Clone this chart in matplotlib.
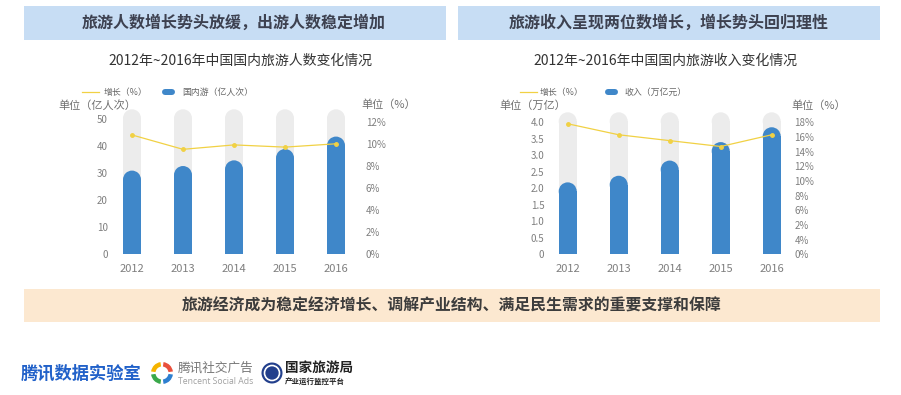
import numpy as np
import matplotlib
matplotlib.use("Agg")
import matplotlib.pyplot as plt
from matplotlib.patches import Rectangle, Circle, Wedge, Ellipse
from matplotlib.lines import Line2D

plt.rcParams["font.family"] = ["Noto Sans CJK SC", "DejaVu Sans"]

W, H = 901, 395

########################################################################################
# Données

annees = ["2012", "2013", "2014", "2015", "2016"]

# Graphique de gauche : nombre de touristes (亿人次) et croissance (%)
touristes = [31.0, 32.7, 34.8, 39.0, 43.6]
croissance_touristes = [10.8, 9.5, 9.9, 9.7, 10.0]
ticks_touristes = [0, 10, 20, 30, 40, 50]
ticks_pct_touristes = [0, 2, 4, 6, 8, 10, 12]
labels_pct_touristes = ["0%", "2%", "4%", "6%", "8%", "10%", "12%"]

# Graphique de droite : recettes (万亿元) et croissance (%)
recettes = [2.18, 2.38, 2.84, 3.40, 3.85]
croissance_recettes = [17.8, 16.3, 15.5, 14.7, 16.3]
ticks_recettes = [0, 0.5, 1.0, 1.5, 2.0, 2.5, 3.0, 3.5, 4.0]
labels_recettes = ["0", "0.5", "1.0", "1.5", "2.0", "2.5", "3.0", "3.5", "4.0"]
ticks_pct_recettes = [0, 2, 4, 6, 8, 10, 12, 14, 16, 18]
# l'original a bien 2% et 4% inversés
labels_pct_recettes = ["0%", "4%", "2%", "6%", "8%", "10%", "12%", "14%", "16%", "18%"]

BLEU = "#3f87c9"
GRIS_FOND = "#ececec"
JAUNE = "#f1d144"
GRIS_TXT = "#7f7f7f"

fig = plt.figure(figsize=(W / 100, H / 100), dpi=100)

# Axe de fond en pixels (origine en haut à gauche)
fond = fig.add_axes([0, 0, 1, 1], zorder=-1)
fond.set_xlim(0, W)
fond.set_ylim(H, 0)
fond.axis("off")


def px(v):
    return v * 0.72


def trace_graphique(x0, x1, y_haut, y_bas, valeurs, croissance, yticks, ylabels,
                    ylim_g, ylim_d, ticks_d, labels_d, pad_g, pad_d):
    ax = fig.add_axes([x0 / W, 1 - y_bas / H, (x1 - x0) / W, (y_bas - y_haut) / H])
    x = np.arange(len(annees))
    larg_px = 18
    pas_px = (x1 - x0) / (len(annees) - 1 + 40 / 51)
    marge = (x1 - x0) / pas_px - (len(annees) - 1)
    ax.set_xlim(-marge / 2, len(annees) - 1 + marge / 2)
    ax.set_ylim(*ylim_g)

    par_px = (ylim_g[1] - ylim_g[0]) / (y_bas - y_haut)
    r = larg_px / 2 * par_px
    largeur = larg_px / pas_px
    haut_fond = ylim_g[1] + 10 * par_px

    v = np.array(valeurs)
    for xi, vi in zip(x, v):
        # barre grise de fond avec bout arrondi
        ax.add_patch(Rectangle((xi - largeur / 2, 0), largeur, haut_fond - r,
                               color=GRIS_FOND, lw=0, clip_on=False, zorder=1))
        ax.add_patch(Ellipse((xi, haut_fond - r), largeur, 2 * r,
                             color=GRIS_FOND, lw=0, clip_on=False, zorder=1))
        # barre bleue
        ax.add_patch(Rectangle((xi - largeur / 2, 0), largeur, vi - r,
                               color=BLEU, lw=0, zorder=2))
        ax.add_patch(Ellipse((xi, vi - r), largeur, 2 * r,
                             color=BLEU, lw=0, clip_on=False, zorder=2))

    ax.set_xticks(x, annees)
    ax.set_yticks(yticks, ylabels)
    ax.tick_params(axis="x", length=0, pad=7, labelsize=8, labelcolor=GRIS_TXT)
    ax.tick_params(axis="y", length=0, pad=pad_g, labelsize=7, labelcolor=GRIS_TXT)
    for s in ax.spines.values():
        s.set_visible(False)
    ax.patch.set_visible(False)

    ax2 = ax.twinx()
    ax2.plot(x, croissance, color=JAUNE, lw=0.9, marker="o", ms=2.5, zorder=3)
    ax2.set_ylim(*ylim_d)
    ax2.set_yticks(ticks_d, labels_d)
    ax2.tick_params(axis="y", length=0, pad=pad_d, labelsize=7, labelcolor=GRIS_TXT)
    for s in ax2.spines.values():
        s.set_visible(False)
    return ax, ax2


trace_graphique(112, 356, 119.3, 254.3, touristes, croissance_touristes,
                ticks_touristes, [str(t) for t in ticks_touristes],
                (0, 50), (0, 12 * 135 / 132.6), ticks_pct_touristes, labels_pct_touristes,
                3, 7)
trace_graphique(547.7, 791.7, 122.3, 254.3, recettes, croissance_recettes,
                ticks_recettes, labels_recettes,
                (0, 4.0), (0, 18 * 132 / 132.6), ticks_pct_recettes, labels_pct_recettes,
                2.5, 2)

########################################################################################
# En-têtes

for (bx0, bx1, cx, titre, sous_titre, sx) in [
    (24, 446, 234, "旅游人数增长势头放缓，出游人数稳定增加", "2012年~2016年中国国内旅游人数变化情况", 240),
    (458, 880, 669, "旅游收入呈现两位数增长，增长势头回归理性", "2012年~2016年中国国内旅游收入变化情况", 665),
]:
    fond.add_patch(Rectangle((bx0, 6), bx1 - bx0, 33.5, color="#c7ddf4", lw=0))
    fond.text(cx, 22.7, titre, ha="center", va="center", fontsize=11.5,
              fontweight="bold", color="#3d4150")
    fond.text(sx, 60.7, sous_titre, ha="center", va="center", fontsize=10, color="#333333")

# Légendes
for (lx, tx1, bx, tx2, nom) in [
    (82, 104, 162, 182, "国内游（亿人次）"),
    (520, 540, 605, 624, "收入（万亿元）"),
]:
    fond.add_line(Line2D([lx, lx + 17], [92.3, 92.3], color=JAUNE, lw=0.9))
    fond.text(tx1, 92.3, "增长（%）", ha="left", va="center", fontsize=6.4, color="#666666")
    fond.add_line(Line2D([bx + 3, bx + 10], [92.3, 92.3], color=BLEU, lw=px(6),
                         solid_capstyle="round"))
    fond.text(tx2, 92.3, nom, ha="left", va="center", fontsize=6.4, color="#666666")

# Unités
fond.text(58, 105, "单位（亿人次）", ha="left", va="center", fontsize=8, color="#707070")
fond.text(361, 105, "单位（%）", ha="left", va="center", fontsize=8, color="#707070")
fond.text(499, 105.5, "单位（万亿）", ha="left", va="center", fontsize=8, color="#707070")
fond.text(791, 105.5, "单位（%）", ha="left", va="center", fontsize=8, color="#707070")

# Bandeau du bas
fond.add_patch(Rectangle((24, 289), 856, 33.3, color="#fce8d0", lw=0))
fond.text(451.5, 305.7, "旅游经济成为稳定经济增长、调解产业结构、满足民生需求的重要支撑和保障",
          ha="center", va="center", fontsize=11.4, fontweight="bold", color="#3c3c3c")

########################################################################################
# Logos

fond.text(21, 374, "腾讯数据实验室", ha="left", va="center", fontsize=12.4,
          fontweight="bold", color="#2161c9")

couleurs_anneau = ["#2d7fd0", "#3aa84a", "#f5b400", "#e9503c"]
for i, c in enumerate(couleurs_anneau):
    fond.add_patch(Wedge((162, 373), 11, 90 * i + 8, 90 * i + 82, width=4.5, color=c, lw=0))
fond.text(178, 368.5, "腾讯社交广告", ha="left", va="center", fontsize=9.1, color="#777777")
fond.text(178, 381.5, "Tencent Social Ads", ha="left", va="center", fontsize=6.2,
          color="#a0a0a0", family=["Open Sans", "DejaVu Sans"])

fond.add_patch(Circle((272, 373), 10.5, color="#223f8c", lw=0))
fond.add_patch(Circle((272, 373), 7.5, fill=False, ec="white", lw=1.2))
fond.text(285, 368, "国家旅游局", ha="left", va="center", fontsize=9.8,
          fontweight="bold", color="#222222")
fond.text(285, 381.5, "产业运行监控平台", ha="left", va="center", fontsize=5.4,
          fontweight="bold", color="#222222")

fig.savefig("out.png", dpi=100)
